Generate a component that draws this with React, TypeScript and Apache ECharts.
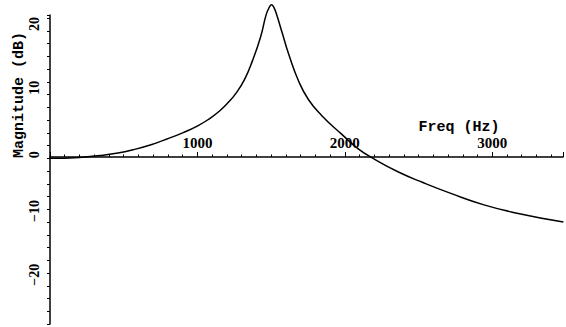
import React, { useEffect, useRef } from "react";
import * as echarts from "echarts";

const freqHz = [0, 200, 340, 450, 564, 680, 789, 900, 1002, 1080, 1148, 1210, 1261, 1320, 1373, 1429, 1467, 1490, 1503, 1516, 1534, 1575, 1620, 1687, 1754, 1844, 1978, 2091, 2203, 2360, 2530, 2719, 2944, 3168, 3483];
const magnitudeDb = [0, 0.15, 0.45, 0.8, 1.35, 2.1, 3.0, 4.0, 5.1, 6.2, 7.4, 8.8, 10.2, 12.4, 15.3, 19.1, 22.6, 23.8, 24.1, 23.8, 22.8, 19.7, 16.3, 12.1, 9.2, 6.7, 3.8, 1.5, -0.15, -2.1, -3.8, -5.5, -7.3, -8.6, -10.0];
const xTickLabels = [1000, 2000, 3000];
const yTickLabels = [-20, -10, 0, 10, 20];

export default function App() {
  const ref = useRef<HTMLDivElement>(null);
  useEffect(() => {
    if (!ref.current) return;
    const chart = echarts.init(ref.current, null, { renderer: "svg" });
    const data = freqHz.map((f, i) => [f, magnitudeDb[i]]);
    chart.setOption({
      animation: false,
      backgroundColor: "#fff",
      grid: { left: 50, right: 0, top: 15, bottom: 0, containLabel: false },
      xAxis: {
        type: "value",
        min: 0,
        max: 3480,
        interval: 1000,
        position: "bottom",
        offset: -167,
        axisLine: { onZero: false, lineStyle: { color: "#000", width: 1.5 } },
        axisTick: { show: true, inside: true, length: 5, lineStyle: { color: "#000", width: 1 } },
        minorTick: { show: true, splitNumber: 10, length: 2.5, lineStyle: { color: "#000", width: 1 } },
        splitLine: { show: false },
        axisLabel: {
          inside: true,
          margin: 7,
          color: "#000",
          fontFamily: "Liberation Serif",
          fontWeight: "bold",
          fontSize: 15,
          formatter: (v: number) => (xTickLabels.includes(v) ? String(v) : ""),
        },
      },
      yAxis: {
        type: "value",
        min: -26,
        max: 22.5,
        interval: 2,
        axisLine: { onZero: false, lineStyle: { color: "#000", width: 1.5 } },
        axisTick: { show: true, inside: false, length: 3, lineStyle: { color: "#000", width: 1 } },
        splitLine: { show: false },
        axisLabel: {
          rotate: 90,
          align: "left",
          margin: 9,
          padding: 0,
          color: "#000",
          fontFamily: "Liberation Serif",
          fontWeight: "bold",
          fontSize: 14,
          formatter: (v: number) => (yTickLabels.includes(v) ? (v < 0 ? "\u2212" + Math.abs(v) : String(v)) : ""),
        },
      },
      graphic: [
        {
          type: "text",
          x: 19,
          y: 95,
          rotation: Math.PI / 2,
          style: {
            text: "Magnitude (dB)",
            fill: "#000",
            font: "bold 15px 'Liberation Mono'",
            align: "center",
            verticalAlign: "middle",
          },
        },
        {
          type: "text",
          x: 459,
          y: 127,
          style: {
            text: "Freq (Hz)",
            fill: "#000",
            font: "bold 15px 'Liberation Mono'",
            align: "center",
            verticalAlign: "middle",
          },
        },
      ],
      series: [
        {
          type: "line",
          data,
          showSymbol: false,
          smooth: 0.5,
          clip: false,
          lineStyle: { color: "#000", width: 1.5 },
        },
      ],
    });
    return () => chart.dispose();
  }, []);
  return <div ref={ref} style={{ position: "fixed", left: 0, top: 0, width: 566, height: 327 }} />;
}
